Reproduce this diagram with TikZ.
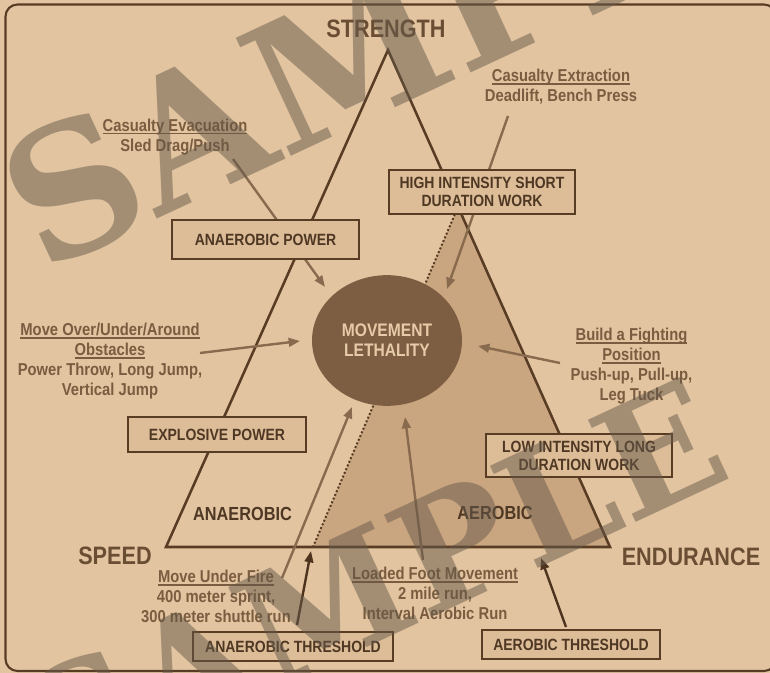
\documentclass[tikz,border=0pt]{standalone}
\usepackage{fontspec}
\setmainfont{Liberation Sans}[FakeStretch=0.86]
\newfontfamily\stampfont{DejaVu Serif}
\usetikzlibrary{arrows.meta}
\usetikzlibrary{shapes.geometric}

\definecolor{paper tan}{RGB}{226,197,160}
\definecolor{zone tan}{RGB}{202,166,128}
\definecolor{box tan}{RGB}{221,189,152}
\definecolor{rim brown}{RGB}{88,60,36}
\definecolor{core brown}{RGB}{126,94,66}
\definecolor{core text}{RGB}{230,203,168}
\definecolor{label brown}{RGB}{122,92,64}
\definecolor{head brown}{RGB}{106,78,52}
\definecolor{box text}{RGB}{78,56,36}
\definecolor{feed brown}{RGB}{136,106,78}
\definecolor{gate brown}{RGB}{78,52,30}
\definecolor{stamp grey}{RGB}{101,88,74}

% underlined title line of a drill label
\newsavebox\ulbox
\newcommand\ulabel[1]{%
  \sbox\ulbox{#1}%
  \rlap{\rule[-2.2pt]{\wd\ulbox}{1pt}}\usebox\ulbox}

\tikzset {
  sheet/.style = {
    fill = paper tan
  },
  sheet edge/.style = {
    draw = rim brown,
    line width = 1.6pt,
    rounded corners = 9pt
  },
  % the big triangle
  tri side/.style = {
    draw = rim brown,
    line width = 1.9pt
  },
  aerobic zone/.style = {
    fill = zone tan
  },
  split line/.style = {
    draw = rim brown,
    line width = 1.5pt,
    dash pattern = on 1.5pt off 1.5pt
  }
}
\tikzset {
  % arrow from a drill to the core
  feed/.style = {
    draw = feed brown,
    line width = 1.8pt,
    -{Triangle[length = 8.5pt, width = 6.5pt]}
  },
  % arrow from a threshold box
  gate/.style = {
    feed,
    draw = gate brown,
    fill = gate brown
  }
}
\tikzset {
  work box/.style = {
    draw = rim brown,
    fill = box tan,
    line width = 1.1pt,
    align = center,
    inner sep = 0,
    text = box text,
    font = \bfseries\fontsize{12.2pt}{13.5pt}\selectfont
  },
  core/.style = {
    ellipse,
    fill = core brown,
    minimum width = 112.5pt,
    minimum height = 98pt,
    inner sep = 0,
    align = center,
    text = core text,
    font = \bfseries\fontsize{13.6pt}{15pt}\selectfont
  },
  % exercise labels
  drill/.style = {
    anchor = north,
    align = center,
    inner sep = 0,
    text = label brown,
    font = \bfseries\fontsize{12.9pt}{15pt}\selectfont
  },
  corner word/.style = {
    inner sep = 0,
    text = head brown,
    font = \bfseries\fontsize{18.9pt}{20pt}\selectfont
  },
  zone word/.style = {
    inner sep = 0,
    text = box text,
    font = \bfseries\fontsize{14.2pt}{16pt}\selectfont
  },
  % watermark
  stamp/.style = {
    inner sep = 0,
    rotate = 25,
    text = stamp grey,
    font = \stampfont\bfseries\fontsize{#1}{#1}\selectfont
  }
}

\begin{document}
\begin{tikzpicture}[x=0.75pt, y=-0.75pt]
    \useasboundingbox (0,0) rectangle (770,673);
    \clip (0,0) rectangle (770,673);
    \fill[sheet] (0,0) rectangle (770,673);
    \draw[sheet edge] (5.5,4.5) rectangle (776,671);

    \coordinate (apex) at (388,50);
    \coordinate (speed-pt) at (166,547);
    \coordinate (endur-pt) at (610,547);
    \coordinate (split-top) at (458,207);
    \coordinate (split-foot) at (313,547);

    \fill[aerobic zone] (split-top) -- (endur-pt) -- (split-foot) -- cycle;
    \draw[tri side] (apex) -- (endur-pt) -- (speed-pt) -- cycle;
    \draw[split line] (split-top) -- (split-foot);

    % arrow ends
    \coordinate (evac-tail) at (233,159);
    \coordinate (evac-head) at (325,287);
    \coordinate (extract-tail) at (508,116);
    \coordinate (extract-head) at (447,289);
    \coordinate (obst-tail) at (200,353);
    \coordinate (obst-head) at (300,341);
    \coordinate (fight-tail) at (560,363);
    \coordinate (fight-head) at (478,346);
    \coordinate (fire-tail) at (282,578);
    \coordinate (fire-head) at (352,407);
    \coordinate (foot-tail) at (423,560);
    \coordinate (foot-head) at (405,417);
    \coordinate (an-gate-tail) at (297,625);
    \coordinate (an-gate-head) at (311,551);
    \coordinate (aer-gate-tail) at (566,627);
    \coordinate (aer-gate-head) at (541,558);

    \draw[feed] (evac-tail) -- (evac-head);
    \draw[feed] (extract-tail) -- (extract-head);
    \draw[feed] (obst-tail) -- (obst-head);
    \draw[feed] (fight-tail) -- (fight-head);
    \draw[feed] (fire-tail) -- (fire-head);
    \draw[feed] (foot-tail) -- (foot-head);
    \draw[gate] (an-gate-tail) -- (an-gate-head);
    \draw[gate] (aer-gate-tail) -- (aer-gate-head);

    \node[work box, minimum width=140pt, minimum height=29pt]
      (an-power) at (265.5,239.5) {ANAEROBIC POWER};
    \node[work box, minimum width=139.5pt, minimum height=33pt]
      (high-work) at (482,192) {HIGH INTENSITY SHORT\\DURATION WORK};
    \node[work box, minimum width=133.5pt, minimum height=26.25pt]
      (expl-power) at (217,434.5) {EXPLOSIVE POWER};
    \node[work box, minimum width=139.5pt, minimum height=32.25pt]
      (low-work) at (579,455.5) {LOW INTENSITY LONG\\DURATION WORK};
    \node[work box, minimum width=150pt, minimum height=21.75pt]
      (an-gate) at (293,646.5) {ANAEROBIC THRESHOLD};
    \node[work box, minimum width=133.5pt, minimum height=21.75pt]
      (aer-gate) at (571,644.5) {AEROBIC THRESHOLD};

    \node[core] (lethality) at (387,340.5) {MOVEMENT\\LETHALITY};

    \node[corner word] (strength) at (386,28.5) {STRENGTH};
    \node[corner word] (speed) at (115,556) {SPEED};
    \node[corner word] (endurance) at (691,557) {ENDURANCE};
    \node[zone word] (anaerobic) at (242.5,513.5) {ANAEROBIC};
    \node[zone word] (aerobic) at (495,513) {AEROBIC};

    \node[drill] (evac) at (175,118.5)
      {\ulabel{Casualty Evacuation}\\Sled Drag/Push};
    \node[drill] (extract) at (561,69)
      {\ulabel{Casualty Extraction}\\Deadlift, Bench Press};
    \node[drill] (obstacles) at (110,323)
      {\ulabel{Move Over/Under/Around}\\\ulabel{Obstacles}\\Power Throw, Long Jump,\\Vertical Jump};
    \node[drill] (fighting) at (631.5,328)
      {\ulabel{Build a Fighting}\\\ulabel{Position}\\Push-up, Pull-up,\\Leg Tuck};
    \node[drill] (under-fire) at (216,570)
      {\ulabel{Move Under Fire}\\400 meter sprint,\\300 meter shuttle run};
    \node[drill] (foot-move) at (435,567)
      {\ulabel{Loaded Foot Movement}\\2 mile run,\\Interval Aerobic Run};

    \begin{scope}[transparency group, opacity=0.5]
      \node[stamp=134pt] (stamp-top) at (405,32) {SAMPLE};
      \node[stamp=116pt] (stamp-foot) at (375,582) {SAMPLE};
    \end{scope}
\end{tikzpicture}
\end{document}
